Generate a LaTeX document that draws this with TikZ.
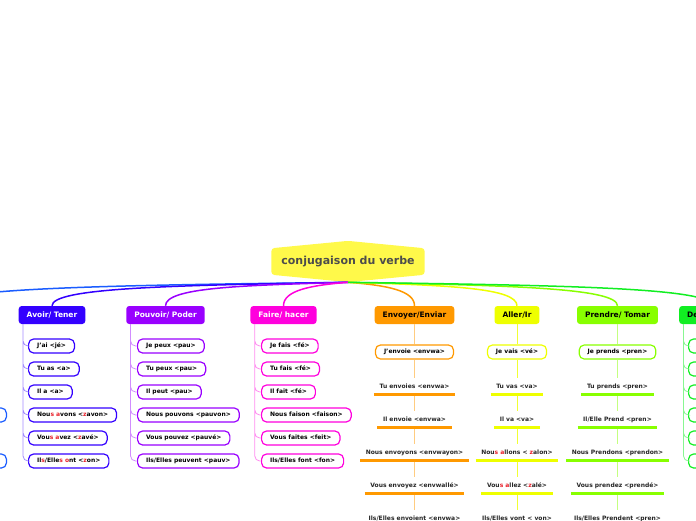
\documentclass[tikz,border=0pt]{standalone}
\usepackage{fontspec}
\setmainfont{DejaVu Sans}
\usetikzlibrary{shapes.symbols,calc}
\definecolor{avc}{HTML}{3300FF}
\definecolor{poc}{HTML}{9900FF}
\definecolor{fac}{HTML}{FF00DD}
\definecolor{enc}{HTML}{FF9900}
\definecolor{alc}{HTML}{EEFF00}
\definecolor{prc}{HTML}{88FF00}
\definecolor{dec}{HTML}{11EE22}
\definecolor{lfc}{HTML}{1A5CFF}
\definecolor{cvc}{HTML}{FFF94A}
\definecolor{redt}{HTML}{E8202A}
\newcommand{\redl}[1]{\textcolor{redt}{#1}}
\begin{document}
\begin{tikzpicture}[x=1pt, y=-1pt,
    central/.style={signal, signal to=north and south, signal pointer angle=169, fill=cvc, rounded corners=3pt, inner xsep=10pt, inner ysep=8pt, text height=8pt, text depth=2.5pt, text=black!70, font=\bfseries\fontsize{11}{13}\selectfont},
    topic/.style={rounded corners=3pt, minimum height=18pt, inner xsep=8pt, text height=5.5pt, text depth=1.5pt, font=\bfseries\fontsize{7.5}{9}\selectfont},
    leaf/.style={draw, fill=white, rounded corners=5pt, line width=1.2pt, minimum height=14pt, inner xsep=8.5pt, inner ysep=0pt, text height=4.5pt, text depth=1.5pt, font=\bfseries\fontsize{6}{7}\selectfont, anchor=west},
    cleaf/.style={leaf, anchor=center},
    uleaf/.style={inner xsep=5.5pt, inner ysep=5pt, text height=4.5pt, text depth=1.5pt, text=black!85, font=\bfseries\fontsize{6}{7}\selectfont},
    con/.style={line width=1.5pt},
    sub/.style={line width=0.8pt, rounded corners=5pt},
    bar/.style={line width=3pt}
  ]
    \useasboundingbox (0,0) rectangle (696,520);
    \clip (0,0) rectangle (696,520);
    \node[central] (cv) at (348,261.5) {conjugaison du verbe};
    \node[topic, fill=avc, text=white] (av) at (52,315) {Avoir/ Tener};
    \node[topic, fill=poc, text=white] (po) at (165.5,315) {Pouvoir/ Poder};
    \node[topic, fill=fac, text=white] (fa) at (283.5,315) {Faire/ hacer};
    \node[topic, fill=enc] (en) at (414.5,315) {Envoyer/Enviar};
    \node[topic, fill=alc] (al) at (517,315) {Aller/Ir};
    \node[topic, fill=prc] (pr) at (617.5,315) {Prendre/ Tomar};
    \node[topic, fill=dec, anchor=west, text width=50pt, align=left] (de) at (679,315) {De};
    \coordinate (lout) at (-60,306);
    \draw[con, lfc] (cv.south) .. controls +(-245,3) and +(0,-18) .. (lout);
    \draw[con, avc] (cv.south) .. controls +(-178,3) and +(0,-18) .. (av.north);
    \draw[con, poc] (cv.south) .. controls +(-110,3) and +(0,-18) .. (po.north);
    \draw[con, fac] (cv.south) .. controls +(-39,3) and +(0,-15) .. (fa.north);
    \draw[con, enc] (cv.south) .. controls +(40,3) and +(0,-15) .. (en.north);
    \draw[con, alc] (cv.south) .. controls +(100,3) and +(0,-18) .. (al.north);
    \draw[con, prc] (cv.south) .. controls +(160,3) and +(0,-18) .. (pr.north);
    \draw[con, dec] (cv.south) .. controls +(218,3) and +(0,-18) .. (de.north);

    \node[leaf, draw=avc] (a1) at (28,346) {J'ai <jé>};
    \node[leaf, draw=avc] (a2) at (28,369) {Tu as <a>};
    \node[leaf, draw=avc] (a3) at (28,392) {Il a <a>};
    \node[leaf, draw=avc] (a4) at (28,415) {Nou\redl{s} \redl{a}vons <\redl{z}avon>};
    \node[leaf, draw=avc] (a5) at (28,438) {Vou\redl{s} \redl{a}vez <\redl{z}avé>};
    \node[leaf, draw=avc] (a6) at (28,461) {Il\redl{s}/Elle\redl{s} \redl{o}nt <\redl{z}on>};
    \coordinate (avs) at ($(av.south west)+(4.5,0)$);
    \draw[sub, avc!45] (avs) |- (a1.west) (avs) |- (a2.west) (avs) |- (a3.west)
      (avs) |- (a4.west) (avs) |- (a5.west) (avs) |- (a6.west);

    \node[leaf, draw=poc] (p1) at (137,346) {Je peux <pau>};
    \node[leaf, draw=poc] (p2) at (137,369) {Tu peux <pau>};
    \node[leaf, draw=poc] (p3) at (137,392) {Il peut <pau>};
    \node[leaf, draw=poc] (p4) at (137,415) {Nous pouvons <pauvon>};
    \node[leaf, draw=poc] (p5) at (137,438) {Vous pouvez <pauvé>};
    \node[leaf, draw=poc] (p6) at (137,461) {Ils/Elles peuvent <pauv>};
    \coordinate (pos) at ($(po.south west)+(4.5,0)$);
    \draw[sub, poc!45] (pos) |- (p1.west) (pos) |- (p2.west) (pos) |- (p3.west)
      (pos) |- (p4.west) (pos) |- (p5.west) (pos) |- (p6.west);

    \node[leaf, draw=fac] (f1) at (261,346) {Je fais <fé>};
    \node[leaf, draw=fac] (f2) at (261,369) {Tu fais <fé>};
    \node[leaf, draw=fac] (f3) at (261,392) {Il fait <fé>};
    \node[leaf, draw=fac] (f4) at (261,415) {Nous faison <faison>};
    \node[leaf, draw=fac] (f5) at (261,438) {Vous faites <feit>};
    \node[leaf, draw=fac] (f6) at (261,461) {Ils/Elles font <fon>};
    \coordinate (fas) at ($(fa.south west)+(4.5,0)$);
    \draw[sub, fac!45] (fas) |- (f1.west) (fas) |- (f2.west) (fas) |- (f3.west)
      (fas) |- (f4.west) (fas) |- (f5.west) (fas) |- (f6.west);

    \node[cleaf, draw=enc] (e1) at (414.5,352) {J'envoie <envwa>};
    \node[uleaf] (e2) at (414.5,386.5) {Tu envoies <envwa>};
    \node[uleaf] (e3) at (414.5,419.5) {Il envoie <envwa>};
    \node[uleaf] (e4) at (414.5,452.5) {Nous envoyons <envwayon>};
    \node[uleaf] (e5) at (414.5,485.5) {Vous envoyez <envwallé>};
    \node[uleaf] (e6) at (414.5,518.5) {Ils/Elles envoient <envwa>};
    \draw[sub, enc!50] (en.south) -- (e1.north) (e1.south) -- (e2.north) (e2.south) -- (e3.north)
      (e3.south) -- (e4.north) (e4.south) -- (e5.north) (e5.south) -- (e6.north);
    \draw[bar, enc] (e2.south west) -- (e2.south east) (e3.south west) -- (e3.south east)
      (e4.south west) -- (e4.south east) (e5.south west) -- (e5.south east) (e6.south west) -- (e6.south east);

    \node[cleaf, draw=alc] (l1) at (517,352) {Je vais <vé>};
    \node[uleaf] (l2) at (517,386.5) {Tu vas <va>};
    \node[uleaf] (l3) at (517,419.5) {Il va <va>};
    \node[uleaf] (l4) at (517,452.5) {Nou\redl{s} \redl{a}llons < \redl{z}alon>};
    \node[uleaf] (l5) at (517,485.5) {Vou\redl{s} \redl{a}llez <\redl{z}alé>};
    \node[uleaf] (l6) at (517,518.5) {Ils/Elles vont < von>};
    \draw[sub, alc!80] (al.south) -- (l1.north) (l1.south) -- (l2.north) (l2.south) -- (l3.north)
      (l3.south) -- (l4.north) (l4.south) -- (l5.north) (l5.south) -- (l6.north);
    \draw[bar, alc] (l2.south west) -- (l2.south east) (l3.south west) -- (l3.south east)
      (l4.south west) -- (l4.south east) (l5.south west) -- (l5.south east) (l6.south west) -- (l6.south east);

    \node[cleaf, draw=prc] (r1) at (617.5,352) {Je prends <pren>};
    \node[uleaf] (r2) at (617.5,386.5) {Tu prends <pren>};
    \node[uleaf] (r3) at (617.5,419.5) {Il/Elle Prend <pren>};
    \node[uleaf] (r4) at (617.5,452.5) {Nous Prendons <prendon>};
    \node[uleaf] (r5) at (617.5,485.5) {Vous prendez <prendé>};
    \node[uleaf] (r6) at (617.5,518.5) {Ils/Elles Prendent <pren>};
    \draw[sub, prc!50] (pr.south) -- (r1.north) (r1.south) -- (r2.north) (r2.south) -- (r3.north)
      (r3.south) -- (r4.north) (r4.south) -- (r5.north) (r5.south) -- (r6.north);
    \draw[bar, prc] (r2.south west) -- (r2.south east) (r3.south west) -- (r3.south east)
      (r4.south west) -- (r4.south east) (r5.south west) -- (r5.south east) (r6.south west) -- (r6.south east);

    \node[leaf, draw=dec, minimum width=50pt] (d1) at (688,346) {};
    \node[leaf, draw=dec, minimum width=50pt] (d2) at (688,369) {};
    \node[leaf, draw=dec, minimum width=50pt] (d3) at (688,392) {};
    \node[leaf, draw=dec, minimum width=50pt] (d4) at (688,415) {};
    \node[leaf, draw=dec, minimum width=50pt] (d5) at (688,438) {};
    \node[leaf, draw=dec, minimum width=50pt] (d6) at (688,461) {};
    \coordinate (des) at ($(de.south west)+(4.5,0)$);
    \draw[sub, dec!50] (des) |- (d1.west) (des) |- (d2.west) (des) |- (d3.west)
      (des) |- (d4.west) (des) |- (d5.west) (des) |- (d6.west);

    \node[leaf, draw=lfc, anchor=east, minimum width=60pt] (b1) at (7,415) {};
    \node[leaf, draw=lfc, anchor=east, minimum width=60pt] (b2) at (7,461) {};
  \end{tikzpicture}
\end{document}
